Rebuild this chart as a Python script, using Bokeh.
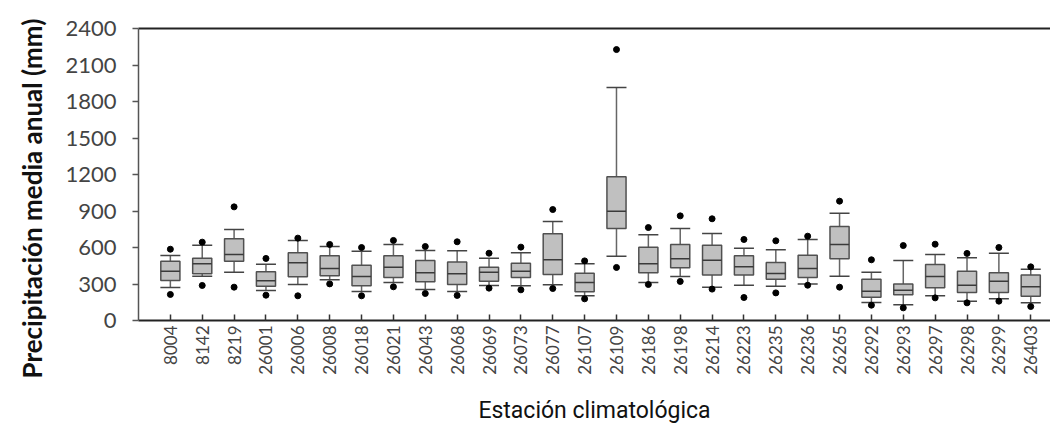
import math
from bokeh.plotting import figure
from bokeh.models import (ColumnDataSource, Whisker, TeeHead, FixedTicker, LinearAxis,
                          Range1d, Title)
from bokeh.transform import dodge
from bokeh.embed import file_html
from bokeh.resources import INLINE

stations = ["8004", "8142", "8219", "26001", "26006", "26008", "26018", "26021", "26043",
            "26068", "26069", "26073", "26077", "26107", "26109", "26186", "26198", "26214",
            "26223", "26235", "26236", "26265", "26292", "26293", "26297", "26298", "26299",
            "26403"]
whisker_low = [271, 364, 397, 247, 296, 334, 238, 312, 255, 238, 288, 285, 293, 203, 528, 312,
               362, 274, 290, 282, 301, 364, 148, 129, 203, 159, 178, 145]
q1 = [329, 384, 488, 282, 359, 367, 285, 353, 318, 296, 323, 353, 378, 236, 756, 392, 433, 375,
      375, 340, 353, 507, 192, 211, 269, 230, 230, 200]
median = [405, 466, 542, 326, 474, 427, 362, 438, 392, 385, 397, 405, 499, 312, 898, 466, 507,
          496, 441, 386, 427, 625, 241, 249, 362, 290, 323, 277]
q3 = [488, 512, 671, 400, 556, 532, 455, 532, 493, 480, 438, 471, 712, 389, 1181, 603, 625, 619,
      532, 477, 537, 773, 340, 301, 460, 405, 392, 373]
whisker_high = [534, 619, 748, 463, 658, 608, 570, 625, 575, 573, 512, 556, 814, 466, 1915, 704,
                756, 715, 594, 581, 666, 882, 397, 493, 542, 515, 553, 422]
outlier_high = [586, 644, 934, 510, 677, 625, 600, 658, 608, 647, 553, 603, 912, 490, 2227, 764,
                860, 836, 666, 655, 693, 981, 499, 616, 627, 551, 600, 441]
outlier_low = [214, 288, 274, 208, 203, 301, 203, 277, 222, 206, 266, 252, 263, 178, 436, 296,
               321, 258, 189, 227, 290, 274, 126, 104, 186, 145, 159, 115]
y_ticks = [0, 300, 600, 900, 1200, 1500, 1800, 2100, 2400]

pos = list(range(len(stations)))
src = ColumnDataSource(dict(x=pos, st=stations, lo=whisker_low, q1=q1, med=median, q3=q3,
                            hi=whisker_high, oh=outlier_high, ol=outlier_low))

TICK_FONT = "Lato"

p = figure(width=1050, height=428, output_backend="svg", toolbar_location=None,
           x_range=Range1d(-1, 27.62), y_range=Range1d(0, 2400),
           min_border_left=133, min_border_right=0, min_border_top=28, min_border_bottom=108)
p.outline_line_color = None
p.grid.visible = False
p.background_fill_color = "white"
p.border_fill_color = "white"

# whiskers (under the boxes)
wk = Whisker(source=src, base="x", lower="lo", upper="hi", dimension="height",
             line_color="#666666", line_width=1.5, level="underlay",
             upper_head=TeeHead(size=20, line_color="#444444", line_width=1.5),
             lower_head=TeeHead(size=20, line_color="#444444", line_width=1.5))
p.add_layout(wk)

p.vbar(x="x", bottom="q1", top="q3", width=0.6, source=src,
       fill_color="#c0c0c0", line_color="#505050", line_width=1.5)
p.segment(x0=dodge("x", -0.3, range=p.x_range), x1=dodge("x", 0.3, range=p.x_range),
          y0="med", y1="med", source=src, line_color="#3a3a3a", line_width=1.5)
p.scatter(x="x", y="oh", source=src, size=6, color="black")
p.scatter(x="x", y="ol", source=src, size=6, color="black")

# x axis
xa = p.xaxis[0]
xa.ticker = FixedTicker(ticks=pos)
xa.major_label_overrides = {i: s for i, s in zip(pos, stations)}
xa.major_label_orientation = math.pi / 2
xa.major_tick_in = 6
xa.major_tick_out = 0
xa.minor_tick_line_color = None
xa.axis_line_color = "#222222"
xa.axis_line_width = 2
xa.major_tick_line_color = "#333333"
xa.major_tick_line_width = 1.5
xa.major_label_text_font = TICK_FONT
xa.major_label_text_font_size = "17px"
xa.major_label_text_color = "#444444"
xa.major_label_standoff = 5
xa.axis_label = "Estación climatológica"
xa.axis_label_text_font = "Roboto"
xa.axis_label_text_font_style = "normal"
xa.axis_label_text_font_size = "23px"
xa.axis_label_text_color = "#111111"
xa.axis_label_standoff = 19

# y axis
ya = p.yaxis[0]
ya.ticker = FixedTicker(ticks=y_ticks)
ya.major_tick_in = 0
ya.major_tick_out = 6
ya.minor_tick_line_color = None
ya.axis_line_color = "#555555"
ya.axis_line_width = 1.5
ya.major_tick_line_color = "#555555"
ya.major_tick_line_width = 1.5
ya.major_label_text_font = TICK_FONT
ya.major_label_text_font_size = "22px"
ya.major_label_text_color = "#444444"
ya.major_label_standoff = 16

# top border line
top = LinearAxis(ticker=FixedTicker(ticks=[]), axis_line_color="#222222", axis_line_width=2,
                 major_label_text_font_size="0px", minor_tick_line_color=None,
                 major_tick_line_color=None)
p.add_layout(top, "above")

# y axis title (as a side title, so it can extend below the frame like the original)
ytitle = Title(text="Precipitación media anual (mm)", align="left", offset=-58,
               vertical_align="middle", standoff=28, text_font="Lato",
               text_font_style="bold", text_font_size="26px", text_color="#111111")
p.add_layout(ytitle, "left")

open("out.html", "w").write(file_html(p, INLINE))
